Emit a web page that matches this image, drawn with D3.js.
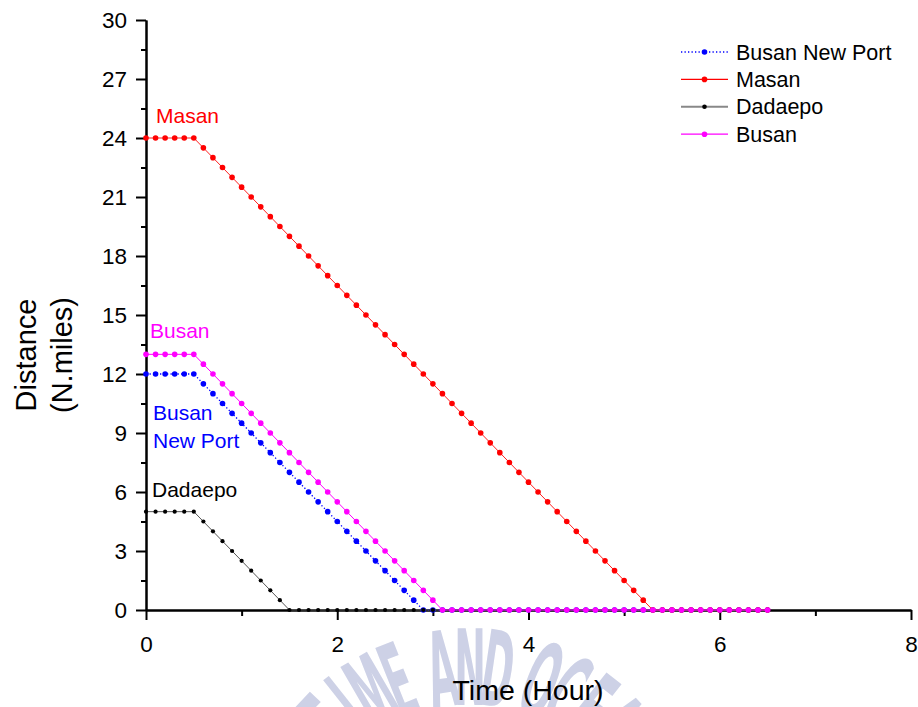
<!DOCTYPE html>
<html>
<head>
    <title></title>
    <script src="https://cdn.jsdelivr.net/npm/d3@7"></script>

    <style>
        body{ margin:0; background:#fff; }
        svg text{ font-family:"Liberation Sans", Arial, sans-serif; }
        .axis path, .axis line{ stroke:#000; stroke-width:2; }
        .axis text{ font-size:22.5px; fill:#000; }
        .watermark text{ font-family:"DejaVu Sans Condensed","Liberation Sans Narrow",sans-serif; font-weight:bold; fill:#cdd1e6; }
    </style>
</head>
<body>

<div id="vis"></div>

<script>

    // time grid (hours)
    var hours = [0,0.1,0.2,0.3,0.4,0.5,0.6,0.7,0.8,0.9,1,1.1,1.2,1.3,1.4,1.5,1.6,1.7,1.8,1.9,2,
        2.1,2.2,2.3,2.4,2.5,2.6,2.7,2.8,2.9,3,3.1,3.2,3.3,3.4,3.5,3.6,3.7,3.8,3.9,4,
        4.1,4.2,4.3,4.4,4.5,4.6,4.7,4.8,4.9,5,5.1,5.2,5.3,5.4,5.5,5.6,5.7,5.8,5.9,6,
        6.1,6.2,6.3,6.4,6.5];

    // distances (N.miles), one per hour value
    var busanNewPort = [12,12,12,12,12,12,11.5,11,10.5,10,9.5,9,8.5,8,7.5,7,6.5,6,5.5,5,4.5,
        4,3.5,3,2.5,2,1.5,1,0.5,0,0,0,0,0,0,0,0,0,0,0,0,
        0,0,0,0,0,0,0,0,0,0,0,0,0,0,0,0,0,0,0,0,
        0,0,0,0,0];
    var masan = [24,24,24,24,24,24,23.5,23,22.5,22,21.5,21,20.5,20,19.5,19,18.5,18,17.5,17,16.5,
        16,15.5,15,14.5,14,13.5,13,12.5,12,11.5,11,10.5,10,9.5,9,8.5,8,7.5,7,6.5,
        6,5.5,5,4.5,4,3.5,3,2.5,2,1.5,1,0.5,0,0,0,0,0,0,0,0,
        0,0,0,0,0];
    var dadaepo = [5,5,5,5,5,5,4.5,4,3.5,3,2.5,2,1.5,1,0.5,0,0,0,0,0,0,
        0,0,0,0,0,0,0,0,0,0,0,0,0,0,0,0,0,0,0,0,
        0,0,0,0,0,0,0,0,0,0,0,0,0,0,0,0,0,0,0,0,
        0,0,0,0,0];
    var busan = [13,13,13,13,13,13,12.5,12,11.5,11,10.5,10,9.5,9,8.5,8,7.5,7,6.5,6,5.5,
        5,4.5,4,3.5,3,2.5,2,1.5,1,0.5,0,0,0,0,0,0,0,0,0,0,
        0,0,0,0,0,0,0,0,0,0,0,0,0,0,0,0,0,0,0,0,
        0,0,0,0,0];

    var seriesNames = ["Busan New Port", "Masan", "Dadaepo", "Busan"];
    var seriesValues = [busanNewPort, masan, dadaepo, busan];
    var seriesColors = ["#0000ff", "#ff0000", "#000000", "#ff00ff"];
    var lineColors = ["#0000ff", "#ff2020", "#555555", "#ff00ff"];
    var legendLineColors = ["#0000ff", "#ff0000", "#888888", "#ff00ff"];

    var yTicks = [0,3,6,9,12,15,18,21,24,27,30];
    var yMinor = [1.5,4.5,7.5,10.5,13.5,16.5,19.5,22.5,25.5,28.5];
    var xTicks = [0,2,4,6,8];
    var xMinor = [1,3,5,7];

    var width = 918, height = 707;

    var svg = d3.select("#vis").append("svg")
            .attr("width", width)
            .attr("height", height);

    var x = d3.scaleLinear().domain([0, 8]).range([146, 911]);
    var y = d3.scaleLinear().domain([0, 30]).range([610, 20]);

    /*
     * watermark seal text (behind the chart)
     */
    var wm = svg.append("g").attr("class", "watermark");
    var sealText = "KOREA MARITIME AND OCEAN UNIVERSITY";
    var sealCx = 470, sealCy = 860, sealR = 232, fs = 42, sy = 2.5;
    var idxN = sealText.indexOf("AND") + 1;
    var ang = 0, angles = [];
    for (var i = 0; i < sealText.length; i++) {
        angles.push(ang);
        ang += sealText[i] === " " ? 0.09 : 0.145;
    }
    var off = angles[idxN];
    sealText.split("").forEach(function(c, i){
        if (c === " ") return;
        var a = (angles[i] - off) * 180 / Math.PI;
        wm.append("text")
            .attr("transform", "translate(" + sealCx + "," + sealCy + ") rotate(" + a + ") translate(0," + (-sealR) + ") scale(1," + sy + ")")
            .attr("y", fs * 0.73)
            .attr("text-anchor", "middle")
            .style("font-size", fs + "px")
            .text(c);
    });

    /*
     * axes
     */
    svg.append("g").attr("class", "axis")
        .attr("transform", "translate(146,0)")
        .call(d3.axisLeft(y).tickValues(yTicks).tickSize(10).tickSizeOuter(0).tickPadding(9));
    svg.append("g").attr("class", "axis")
        .attr("transform", "translate(146,0)")
        .call(d3.axisLeft(y).tickValues(yMinor).tickSize(5).tickSizeOuter(0).tickFormat(""));

    svg.append("g").attr("class", "axis")
        .attr("transform", "translate(0,610)")
        .call(d3.axisBottom(x).tickValues(xTicks).tickSize(10).tickSizeOuter(0).tickPadding(16));
    svg.append("g").attr("class", "axis")
        .attr("transform", "translate(0,610)")
        .call(d3.axisBottom(x).tickValues(xMinor).tickSize(6).tickSizeOuter(0).tickFormat(""));

    svg.append("text")
        .attr("x", 528).attr("y", 700)
        .attr("text-anchor", "middle")
        .style("font-size", "28.5px")
        .text("Time (Hour)");

    svg.append("text")
        .attr("transform", "translate(36,355) rotate(-90)")
        .attr("text-anchor", "middle")
        .style("font-size", "29px")
        .text("Distance");
    svg.append("text")
        .attr("transform", "translate(72,355) rotate(-90)")
        .attr("text-anchor", "middle")
        .style("font-size", "29px")
        .text("(N.miles)");

    /*
     * series
     */
    var line = d3.line()
        .x(function(d){ return x(d[0]); })
        .y(function(d){ return y(d[1]); });

    seriesValues.forEach(function(vals, k){
        var pts = hours.map(function(h, i){ return [h, vals[i]]; });
        var g = svg.append("g").attr("class", "series");
        g.append("path")
            .datum(pts)
            .attr("d", line)
            .attr("fill", "none")
            .attr("stroke", lineColors[k])
            .attr("stroke-width", k === 0 ? 1.3 : 1)
            .attr("stroke-dasharray", k === 0 ? "1.3,2.2" : null);
        g.selectAll("circle").data(pts).enter().append("circle")
            .attr("cx", function(d){ return x(d[0]); })
            .attr("cy", function(d){ return y(d[1]); })
            .attr("r", k === 2 ? 2.1 : 2.8)
            .attr("fill", seriesColors[k]);
    });

    /*
     * in-plot labels
     */
    var labels = [
        {t:"Masan", x:156, y:123, c:"#ff0000"},
        {t:"Busan", x:150, y:338, c:"#ff00ff"},
        {t:"Busan", x:153, y:420, c:"#0000ff"},
        {t:"New Port", x:153, y:448, c:"#0000ff"},
        {t:"Dadaepo", x:152, y:497, c:"#000000"}
    ];
    svg.selectAll(".lbl").data(labels).enter().append("text")
        .attr("class", "lbl")
        .attr("x", function(d){ return d.x; })
        .attr("y", function(d){ return d.y; })
        .attr("fill", function(d){ return d.c; })
        .style("font-size", "21px")
        .text(function(d){ return d.t; });

    /*
     * legend
     */
    var legend = svg.append("g").attr("class", "legend");
    seriesNames.forEach(function(name, k){
        var ly = 52 + k * 27.4;
        legend.append("line")
            .attr("x1", 681).attr("x2", 728)
            .attr("y1", ly).attr("y2", ly)
            .attr("stroke", legendLineColors[k])
            .attr("stroke-width", k === 2 ? 2 : 1.3)
            .attr("stroke-dasharray", k === 0 ? "1.3,2.2" : null);
        legend.append("circle")
            .attr("cx", 704.5).attr("cy", ly)
            .attr("r", k === 2 ? 2.3 : 2.8)
            .attr("fill", seriesColors[k]);
        legend.append("text")
            .attr("x", 736).attr("y", ly + 7.5)
            .style("font-size", "21.5px")
            .text(name);
    });

</script>

</body>
</html>
